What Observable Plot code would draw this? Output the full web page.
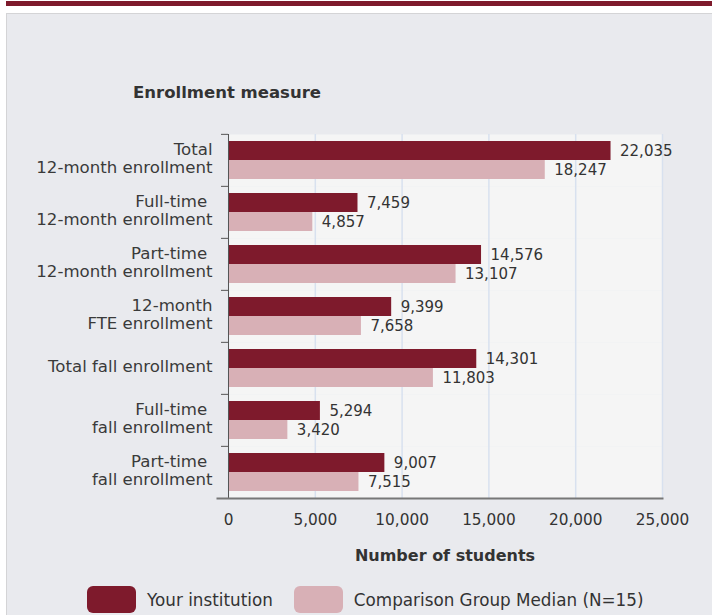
<!DOCTYPE html>
<html>
<head>
<meta charset="utf-8">
<script src="https://cdn.jsdelivr.net/npm/d3@7"></script>
<script src="https://cdn.jsdelivr.net/npm/@observablehq/plot@0.6"></script>
<style>
  body { margin: 0; background: #fff; font-family: "DejaVu Sans", sans-serif; }
  #wrap { position: relative; width: 712px; height: 615px; overflow: hidden; }
  #topbar { position: absolute; left: 6px; top: 1px; width: 706px; height: 5px; background: #7e1a2c; }
  #panel { position: absolute; left: 6px; top: 13px; width: 720px; height: 620px; background: #e9eaee; border: 1px solid #d4d4d6; box-sizing: border-box; }
  #chart { position: absolute; left: 0; top: 0; }
  #title { position: absolute; left: 133px; top: 83px; font-size: 16.5px; font-weight: bold; color: #333; line-height: 20px; white-space: nowrap; }
  #xlabel { position: absolute; left: 228px; width: 434px; top: 546px; text-align: center; font-size: 16px; font-weight: bold; color: #333; line-height: 20px; }
  #legend { position: absolute; left: 87px; top: 586px; display: flex; align-items: center; font-size: 16.8px; color: #333; }
  .sw { width: 49px; height: 27px; border-radius: 6px; margin-right: 11px; }
  .item { display: flex; align-items: center; margin-right: 21px; }
</style>
</head>
<body>
<div id="wrap">
  <div id="topbar"></div>
  <div id="panel"></div>
  <div id="title"></div>
  <div id="chart"></div>
  <div id="xlabel"></div>
  <div id="legend"></div>
</div>
<script>
const titleText = "Enrollment measure";
const xLabelText = "Number of students";
const categories = [
  "Total\n12-month enrollment",
  "Full-time\u00a0\n12-month enrollment",
  "Part-time\u00a0\n12-month enrollment",
  "12-month\nFTE enrollment",
  "Total fall enrollment",
  "Full-time\u00a0\nfall enrollment",
  "Part-time\u00a0\nfall enrollment"
];
const series = ["Your institution", "Comparison Group Median (N=15)"];
const institution = [22035, 7459, 14576, 9399, 14301, 5294, 9007];
const median = [18247, 4857, 13107, 7658, 11803, 3420, 7515];
const xTicks = [0, 5000, 10000, 15000, 20000, 25000];
const colors = ["#7e1a2c", "#d8b0b6"];

const data = categories.flatMap((c, i) => [
  {cat: c, series: series[0], value: institution[i]},
  {cat: c, series: series[1], value: median[i]}
]);

const W = 712, H = 615, mTop = 133, mBottom = 116, mLeft = 228, mRight = 50;
const step = (H - mTop - mBottom) / categories.length;
const fmt = d3.format(",");

const chart = Plot.plot({
  width: W, height: H,
  marginTop: mTop, marginBottom: mBottom, marginLeft: mLeft, marginRight: mRight,
  style: {background: "transparent", fontFamily: "DejaVu Sans", color: "#333", overflow: "visible"},
  x: {domain: [0, 25000], axis: null},
  y: {domain: series, axis: null, paddingInner: 0, paddingOuter: 0.34},
  fy: {domain: categories, padding: 0, axis: null, label: null},
  color: {domain: series, range: colors},
  marks: [
    Plot.frame({fill: "#f5f5f5", stroke: null}),
    Plot.gridX(xTicks, {stroke: "#d8e1ef", strokeOpacity: 1, strokeWidth: 1.5}),
    Plot.barX(data, {x: "value", y: "series", fy: "cat", fill: "series"}),
    Plot.text(data, {x: "value", y: "series", fy: "cat", text: d => fmt(d.value), textAnchor: "start", dx: 9, fontSize: 15, fill: "#333"}),
    Plot.ruleX([0], {stroke: "#555", strokeWidth: 1}),
    Plot.axisFy({anchor: "left", tickSize: 0, tickPadding: 16, fontSize: 16.6, lineHeight: 1.05, dy: -2, label: null, fill: "#3a3a3a"}),
    Plot.axisFy({anchor: "left", tickSize: 7, tickFormat: () => "", dy: -step / 2, label: null, stroke: "#555"}),
    Plot.axisX({ticks: xTicks, tickFormat: fmt, tickSize: 0, tickPadding: 16, fontSize: 15.3, label: null, fill: "#333"}),
    Plot.frame({anchor: "bottom", facetAnchor: "bottom", stroke: "#777", strokeWidth: 2, insetLeft: -11})
  ]
});
document.getElementById("chart").appendChild(chart);
document.getElementById("title").textContent = titleText;
document.getElementById("xlabel").textContent = xLabelText;

const legend = document.getElementById("legend");
series.forEach((s, i) => {
  const item = document.createElement("div");
  item.className = "item";
  const sw = document.createElement("div");
  sw.className = "sw";
  sw.style.background = colors[i];
  const t = document.createElement("span");
  t.textContent = s;
  item.appendChild(sw);
  item.appendChild(t);
  legend.appendChild(item);
});
</script>
</body>
</html>
